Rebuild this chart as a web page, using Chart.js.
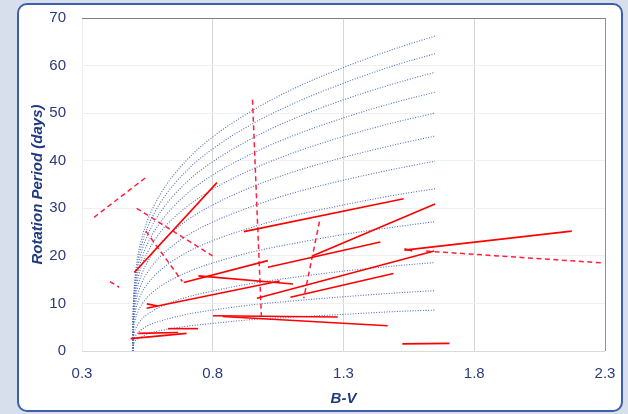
<!DOCTYPE html>
<html>
<head>
<meta charset="utf-8">
<script src="https://cdn.jsdelivr.net/npm/chart.js@4.4.0/dist/chart.umd.min.js"></script>
<style>
html,body{margin:0;padding:0;width:628px;height:414px;overflow:hidden;background:#d7dfec;}
#frame{position:absolute;left:17px;top:3px;width:606px;height:409px;box-sizing:border-box;border:2px solid #3c5fae;border-radius:10px;background:#ffffff;}
#c{position:absolute;left:0;top:0;}
</style>
</head>
<body>
<div id="frame"></div>
<canvas id="c" width="628" height="414"></canvas>
<script>
// B-V sample positions of the model isochrones (dotted blue curves)
const bvGrid = [0.495,0.496,0.498,0.5,0.505,0.515,0.53,0.55,0.6,0.7,0.8,0.95,1.1,1.3,1.5,1.65];
// rotation period (days) of each isochrone at the B-V positions above
const iso1  = [0,1.1,1.5,1.8,2.2,2.7,3.1,3.6,4.3,5.2,5.8,6.6,7.1,7.7,8.3,8.6];
const iso2  = [0,1.6,2.3,2.6,3.2,3.9,4.6,5.3,6.3,7.7,8.6,9.7,10.5,11.4,12.2,12.7];
const iso3  = [0,2.4,3.3,3.8,4.7,5.7,6.8,7.7,9.3,11.3,12.6,14.2,15.4,16.8,17.9,18.6];
const iso4  = [0,3.5,4.8,5.6,6.9,8.4,9.9,11.3,13.6,16.5,18.5,20.8,22.5,24.5,26.1,27.2];
const iso5  = [0,4.4,6.1,7.0,8.6,10.5,12.4,14.1,17.0,20.7,23.2,26.0,28.3,30.7,32.8,34.1];
const iso6  = [0,5.1,7.1,8.2,10.1,12.3,14.5,16.5,19.9,24.2,27.1,30.4,33.1,35.9,38.3,39.9];
const iso7  = [0,5.8,8.0,9.3,11.4,14.0,16.4,18.7,22.6,27.4,30.7,34.5,37.5,40.7,43.4,45.2];
const iso8  = [0,6.5,8.9,10.3,12.6,15.5,18.2,20.7,25.0,30.3,34.0,38.2,41.5,45.1,48.1,50.0];
const iso9  = [0,7.0,9.7,11.2,13.7,16.8,19.7,22.5,27.1,33.0,37.0,41.5,45.1,49.0,52.3,54.4];
const iso10 = [0,7.6,10.4,12.1,14.8,18.1,21.3,24.3,29.2,35.5,39.8,44.7,48.6,52.8,56.3,58.6];
const iso11 = [0,8.1,11.1,12.9,15.8,19.3,22.7,25.9,31.2,37.9,42.5,47.7,51.8,56.3,60.1,62.5];
const iso12 = [0,8.5,11.8,13.6,16.7,20.5,24.0,27.4,33.0,40.1,45.0,50.5,54.9,59.6,63.6,66.2];
const isochrones = [iso1,iso2,iso3,iso4,iso5,iso6,iso7,iso8,iso9,iso10,iso11,iso12];

// red solid tracks: [B-V start, P start, B-V end, P end]
const solidTracks = [
  [0.50,16.5,0.816,35.4],
  [0.919,25.1,1.530,32.0],
  [1.011,17.6,1.441,22.9],
  [1.183,20.0,1.650,30.9],
  [0.969,11.1,1.647,21.0],
  [0.689,14.4,1.011,19.0],
  [0.745,15.8,1.107,14.1],
  [0.547,9.0,1.056,14.7],
  [1.097,11.3,1.491,16.3],
  [0.801,7.4,1.278,7.15],
  [0.838,7.25,1.469,5.3],
  [1.525,1.5,1.705,1.6],
  [1.533,21.2,2.173,25.2],
  [0.486,2.6,0.700,3.7],
  [0.515,3.7,0.668,3.9],
  [0.629,4.7,0.744,4.7],
  [0.548,9.9,0.590,9.45],
  [1.533,21.5,1.563,21.0]
];
// red dashed tracks: [B-V start, P start, B-V end, P end]
const dashedTracks = [
  [0.346,28.1,0.547,36.6],
  [0.509,30.0,0.799,20.0],
  [0.544,25.2,0.684,14.6],
  [0.952,52.8,0.986,7.2],
  [1.208,27.2,1.148,11.1],
  [1.616,21.0,2.297,18.5],
  [0.407,14.6,0.442,13.4]
];
const xTicks = [0.3,0.8,1.3,1.8,2.3];
const yTicks = [0,10,20,30,40,50,60,70];

const datasets = [];
solidTracks.forEach(s => datasets.push({
  data:[{x:s[0],y:s[1]},{x:s[2],y:s[3]}],
  showLine:true, borderColor:'#ff0000', borderWidth:1.6, pointRadius:0, order:0
}));
dashedTracks.forEach(s => datasets.push({
  data:[{x:s[0],y:s[1]},{x:s[2],y:s[3]}],
  showLine:true, borderColor:'#ff2040', borderWidth:1.5, borderDash:[5,3.5], pointRadius:0, order:0
}));
isochrones.forEach(iso => datasets.push({
  data: bvGrid.map((x,i)=>({x:x,y:iso[i]})),
  showLine:true, borderColor:'#5070bb', borderWidth:1.1, borderDash:[1,1.6],
  pointRadius:0, cubicInterpolationMode:'monotone', order:1
}));

const FONT = 'Liberation Sans, Arial, sans-serif';
const near = (a,b)=>Math.abs(a-b)<1e-6;
const noPad = s => { s.paddingTop = 0; s.paddingBottom = 0; s.paddingLeft = 0; s.paddingRight = 0; };

new Chart(document.getElementById('c'), {
  type:'scatter',
  data:{datasets},
  options:{
    responsive:false, animation:false, devicePixelRatio:1,
    layout:{padding:{left:0,top:18,right:23,bottom:0}},
    plugins:{legend:{display:false}, tooltip:{enabled:false}},
    scales:{
      x:{
        type:'linear', min:0.3, max:2.3,
        afterBuildTicks: s => { s.ticks = xTicks.map(v=>({value:v})); },
        afterFit: s => { s.height = 63; noPad(s); },
        border:{display:false},
        grid:{drawTicks:false, lineWidth:1,
          color: c => near(c.tick.value,2.3) ? '#8f8f8f' : (near(c.tick.value,0.3) ? '#eeeeee' : '#d6d6d6')},
        ticks:{padding:14, color:'#2b3b7c', font:{family:FONT,size:15,lineHeight:1.2},
          callback: v => Number(v).toFixed(1)},
        title:{display:true, text:'B-V', color:'#1f3a7e', padding:{top:0,bottom:6},
          font:{family:FONT,size:15,weight:'bold',style:'italic',lineHeight:1.2}}
      },
      y:{
        type:'linear', min:0, max:70,
        afterBuildTicks: s => { s.ticks = yTicks.map(v=>({value:v})); },
        afterFit: s => { s.width = 82; noPad(s); },
        border:{display:false},
        grid:{drawTicks:false, lineWidth:1,
          color: c => near(c.tick.value,70) ? '#7f7f7f' : (near(c.tick.value,0) ? '#dadada' : '#f0f0f0')},
        ticks:{padding:16, color:'#2b3b7c', font:{family:FONT,size:15,lineHeight:1.2}},
        title:{display:true, text:'Rotation Period (days)', color:'#1f3a7e', padding:{top:28.5,bottom:0},
          font:{family:FONT,size:15,weight:'bold',style:'italic',lineHeight:1.2}}
      }
    }
  }
});
</script>
</body>
</html>
